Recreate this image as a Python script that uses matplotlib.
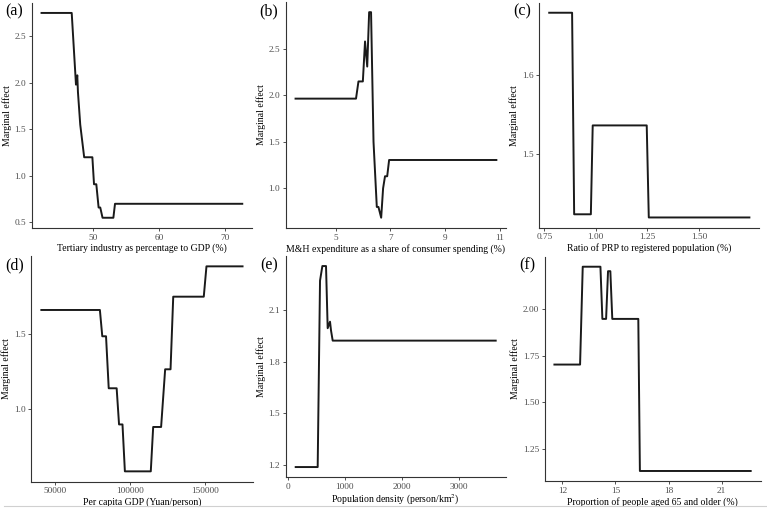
import matplotlib.pyplot as plt

# Data
a_x = [42.1, 46.7, 47.35, 47.55, 47.65, 48.0, 48.6, 49.85, 50.1, 50.45, 50.8, 51.05, 51.4, 53.05, 53.3, 72.7]
a_y = [2.75, 2.75, 1.98, 2.08, 1.9, 1.55, 1.2, 1.2, 0.91, 0.91, 0.66, 0.66, 0.55, 0.55, 0.70, 0.70]

b_x = [3.53, 5.74, 5.83, 5.99, 6.07, 6.15, 6.22, 6.29, 6.38, 6.5, 6.56, 6.66, 6.73, 6.8, 6.88, 6.95, 10.87]
b_y = [1.965, 1.965, 2.15, 2.15, 2.58, 2.31, 2.895, 2.895, 1.5, 0.80, 0.80, 0.684, 1.0, 1.13, 1.13, 1.305, 1.305]

c_x = [0.774, 0.885, 0.895, 0.976, 0.985, 1.247, 1.257, 1.745]
c_y = [1.678, 1.678, 1.424, 1.424, 1.536, 1.536, 1.420, 1.420]

d_x = [40900, 80000, 81600, 84100, 85900, 91200, 92800, 95100, 96700, 114000, 115600, 120900,
       123600, 127200, 129000, 149400, 151200, 175300]
d_y = [1.663, 1.663, 1.487, 1.487, 1.139, 1.139, 0.897, 0.897, 0.583, 0.583, 0.88, 0.88,
       1.266, 1.266, 1.752, 1.752, 1.955, 1.955]

e_x = [140, 525, 566, 607, 671, 700, 741, 759, 788, 3643]
e_y = [1.188, 1.188, 2.27, 2.355, 2.355, 1.994, 2.032, 1.98, 1.922, 1.922]

f_x = [11.55, 13.0, 13.15, 14.15, 14.26, 14.47, 14.58, 14.71, 14.82, 16.29, 16.38, 22.64]
f_y = [1.703, 1.703, 2.228, 2.228, 1.948, 1.948, 2.204, 2.204, 1.948, 1.948, 1.132, 1.132]

panels = [
    ('(a)', a_x, a_y, 'Tertiary industry as percentage to GDP (%)',
     [50, 60, 70], ['50', '60', '70'], [0.5, 1.0, 1.5, 2.0, 2.5], ['0.5', '1.0', '1.5', '2.0', '2.5'],
     (31.5, 2.7, 252.3, 228)),
    ('(b)', b_x, b_y, 'M&H expenditure as a share of consumer spending (%)',
     [5, 7, 9, 11], ['5', '7', '9', '11'], [1.0, 1.5, 2.0, 2.5], ['1.0', '1.5', '2.0', '2.5'],
     (285.5, 1.9, 506.4, 228)),
    ('(c)', c_x, c_y, 'Ratio of PRP to registered population (%)',
     [0.75, 1.0, 1.25, 1.5], ['0.75', '1.00', '1.25', '1.50'], [1.5, 1.6], ['1.5', '1.6'],
     (539.2, 2.5, 759.4, 227.7)),
    ('(d)', d_x, d_y, 'Per capita GDP (Yuan/person)',
     [50000, 100000, 150000], ['50000', '100000', '150000'], [1.0, 1.5], ['1.0', '1.5'],
     (31.3, 256.1, 252.6, 481.6)),
    ('(e)', e_x, e_y, 'Population density (person/km$^2$)',
     [0, 1000, 2000, 3000], ['0', '1000', '2000', '3000'], [1.2, 1.5, 1.8, 2.1], ['1.2', '1.5', '1.8', '2.1'],
     (285.7, 256.0, 505.7, 477.1)),
    ('(f)', f_x, f_y, 'Proportion of people aged 65 and older (%)',
     [12, 15, 18, 21], ['12', '15', '18', '21'], [1.25, 1.5, 1.75, 2.0], ['1.25', '1.50', '1.75', '2.00'],
     (544.6, 256.5, 760.5, 481.2)),
]

plt.rcParams['font.family'] = ['Liberation Serif', 'DejaVu Serif']
plt.rcParams['mathtext.fontset'] = 'stix'

W, H = 767, 511
fig = plt.figure(figsize=(W / 100, H / 100), dpi=100)

for label, xs, ys, xlabel, xt, xtl, yt, ytl, box in panels:
    l, t, r, b = box
    ax = fig.add_axes([l / W, 1 - b / H, (r - l) / W, (b - t) / H])
    ax.plot(xs, ys, color='#1a1a1a', lw=1.4)
    ax.margins(x=0.05, y=0.05)
    ax.spines['top'].set_visible(False)
    ax.spines['right'].set_visible(False)
    for s in ['left', 'bottom']:
        ax.spines[s].set_color('#333333')
        ax.spines[s].set_linewidth(0.8)
    ax.set_xticks(xt)
    ax.set_xticklabels(xtl)
    ax.set_yticks(yt)
    ax.set_yticklabels(ytl)
    ax.tick_params(colors='#333333', labelcolor='#4d4d4d', labelsize=6.7, length=2.5, width=0.6, pad=1.5)
    ax.set_xlabel(xlabel, fontsize=7, color='black', labelpad=1.5)
    ax.set_ylabel('Marginal effect', fontsize=7, color='black', labelpad=2)
    fig.text((l - 17) / W, 1 - (t + 9) / H, label, fontsize=11.5, ha='center', va='center')

# faint rule along the bottom edge of the figure
fig.add_artist(plt.Line2D([4 / W, 1], [1 - 506 / H, 1 - 506 / H], color='#d0d0d0', lw=0.8))

plt.savefig('out.png', dpi=100)
